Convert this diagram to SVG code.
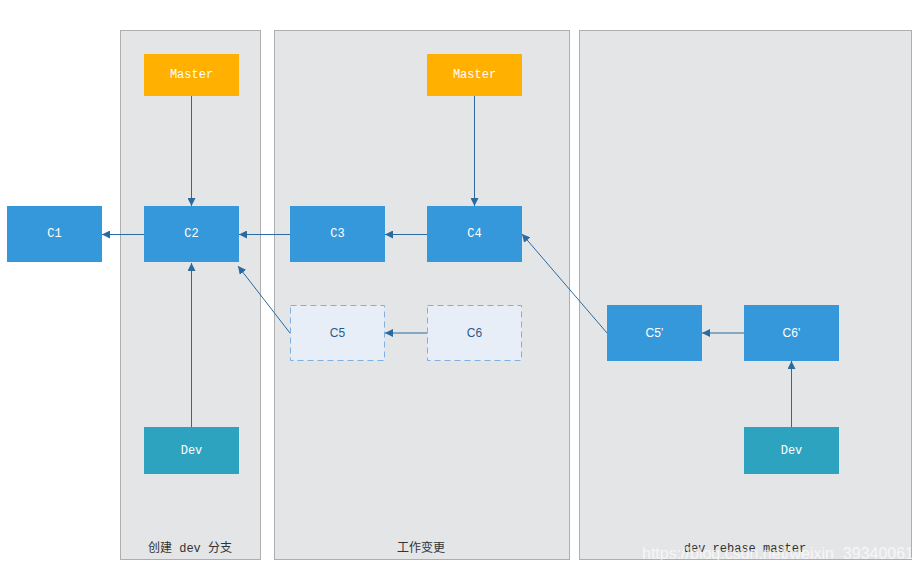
<svg xmlns="http://www.w3.org/2000/svg" width="923" height="572" viewBox="0 0 923 572">
<defs>
<marker id="ah" viewBox="0 0 10 10" refX="10" refY="5" markerWidth="8" markerHeight="8" markerUnits="userSpaceOnUse" orient="auto">
<path d="M0,0 L10,5 L0,10 z" fill="#2a6a9e"/>
</marker>
</defs>
<style>
.panel{fill:#e4e5e7;stroke:#aeaeae;stroke-width:1}
.master{fill:#ffb000}
.commit{fill:#3598db}
.dev{fill:#2ea3bf}
.ghost{fill:#e8eef7;stroke:#7fb0e0;stroke-width:1;stroke-dasharray:6,4}
.t{font-family:"Liberation Mono","DejaVu Sans Mono",monospace;font-size:12px;fill:#ffffff;text-anchor:middle;dominant-baseline:central}
.tg{font-family:"Liberation Sans",Arial,sans-serif;font-size:12px;fill:#2a5c8a;text-anchor:middle;dominant-baseline:central}
.ts{font-family:"Liberation Sans",Arial,sans-serif;font-size:12px;fill:#ffffff;text-anchor:middle;dominant-baseline:central}
.lbl{font-family:"Liberation Mono","Noto Sans CJK SC",monospace;font-size:12px;fill:#333333;text-anchor:middle}
.c{stroke:#2a6a9e;stroke-width:1;fill:none;marker-end:url(#ah)}
</style>
<rect width="923" height="572" fill="#ffffff"/>
<g id="panel1"><rect class="panel" x="120.5" y="30.5" width="140" height="529"/><text class="lbl" x="190" y="552">创建 dev 分支</text></g>
<g id="panel2"><rect class="panel" x="274.5" y="30.5" width="295" height="529"/><text class="lbl" x="421" y="552" style="font-family:'Noto Sans CJK SC',sans-serif">工作变更</text></g>
<g id="panel3"><rect class="panel" x="579.5" y="30.5" width="332" height="529"/><text class="lbl" x="745" y="552">dev rebase master</text></g>
<g id="connectors">
<line class="c" x1="144" y1="234.5" x2="102" y2="234.5"/>
<line class="c" x1="290" y1="234.5" x2="239" y2="234.5"/>
<line class="c" x1="427" y1="234.5" x2="385" y2="234.5"/>
<line class="c" x1="191.5" y1="96" x2="191.5" y2="206"/>
<line class="c" x1="474.5" y1="96" x2="474.5" y2="206"/>
<line class="c" x1="191.5" y1="427" x2="191.5" y2="263"/>
<line class="c" x1="290" y1="333" x2="238" y2="266"/>
<line class="c" x1="427" y1="333" x2="385" y2="333"/>
<line class="c" x1="607" y1="333" x2="522" y2="234"/>
<line class="c" x1="744" y1="333" x2="702" y2="333"/>
<line class="c" x1="791.5" y1="427" x2="791.5" y2="361"/>
</g>
<g id="master1"><rect class="master" x="144" y="54" width="95" height="42"/><text class="t" x="191.5" y="75">Master</text></g>
<g id="master2"><rect class="master" x="427" y="54" width="95" height="42"/><text class="t" x="474.5" y="75">Master</text></g>
<g id="c1"><rect class="commit" x="7" y="206" width="95" height="56"/><text class="t" x="54.5" y="234">C1</text></g>
<g id="c2"><rect class="commit" x="144" y="206" width="95" height="56"/><text class="t" x="191.5" y="234">C2</text></g>
<g id="c3"><rect class="commit" x="290" y="206" width="95" height="56"/><text class="t" x="337.5" y="234">C3</text></g>
<g id="c4"><rect class="commit" x="427" y="206" width="95" height="56"/><text class="t" x="474.5" y="234">C4</text></g>
<g id="c5"><rect class="ghost" x="290.5" y="305.5" width="94" height="55"/><text class="tg" x="337.5" y="333">C5</text></g>
<g id="c6"><rect class="ghost" x="427.5" y="305.5" width="94" height="55"/><text class="tg" x="474.5" y="333">C6</text></g>
<g id="c5p"><rect class="commit" x="607" y="305" width="95" height="56"/><text class="ts" x="654.5" y="333">C5’</text></g>
<g id="c6p"><rect class="commit" x="744" y="305" width="95" height="56"/><text class="ts" x="791.5" y="333">C6’</text></g>
<g id="dev1"><rect class="dev" x="144" y="427" width="95" height="47"/><text class="t" x="191.5" y="450.5">Dev</text></g>
<g id="dev2"><rect class="dev" x="744" y="427" width="95" height="47"/><text class="t" x="791.5" y="450.5">Dev</text></g>
<text x="642" y="559" font-family="Liberation Sans,Arial,sans-serif" font-size="17" fill="#ffffff" fill-opacity="0.7" textLength="272" lengthAdjust="spacingAndGlyphs">https://blog.csdn.net/weixin_39340061</text>
</svg>
